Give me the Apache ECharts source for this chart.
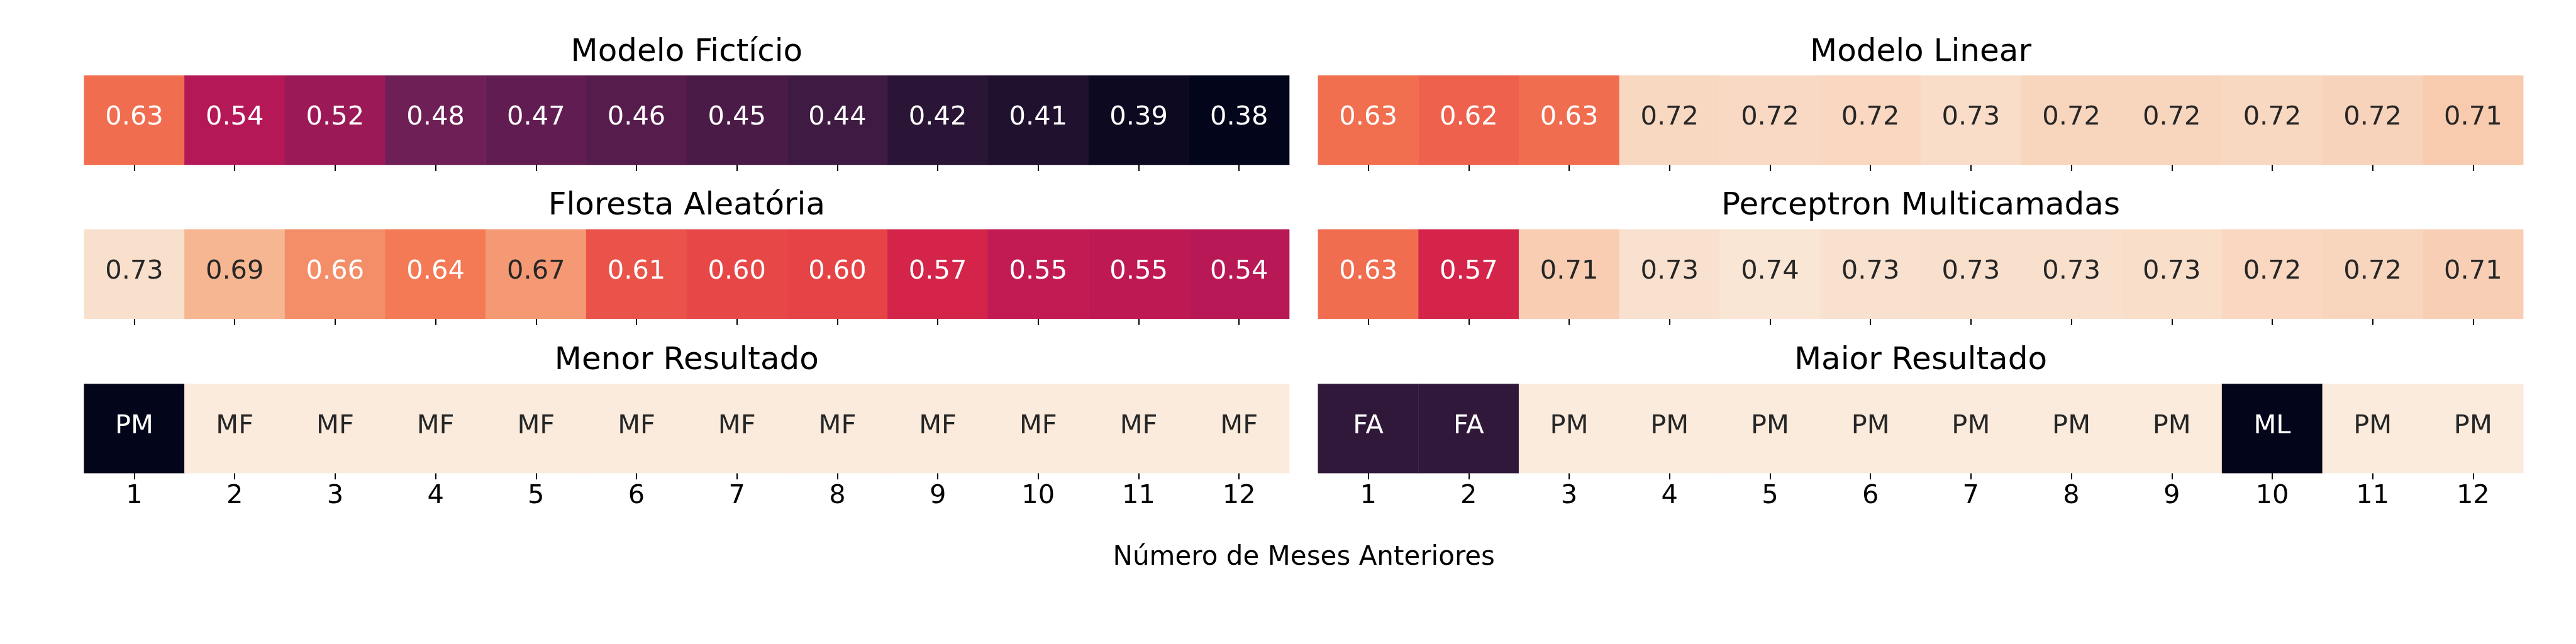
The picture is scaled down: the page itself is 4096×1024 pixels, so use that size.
<!DOCTYPE html>
<html>
<head>
<meta charset="utf-8">
<script src="https://cdn.jsdelivr.net/npm/echarts@6/dist/echarts.min.js"></script>
<style>
html,body{margin:0;padding:0;background:#ffffff;}
#chart{width:4096px;height:1024px;}
</style>
</head>
<body>
<div id="chart"></div>
<script>
// ---------------- DATA ----------------
const months = ['1','2','3','4','5','6','7','8','9','10','11','12'];
const modeloFicticio = [0.630, 0.540, 0.520, 0.480, 0.470, 0.460, 0.450, 0.440, 0.420, 0.410, 0.390, 0.380];
const modeloLinear = [0.631, 0.622, 0.630, 0.722, 0.723, 0.721, 0.727, 0.719, 0.719, 0.722, 0.718, 0.709];
const florestaAleatoria = [0.730, 0.690, 0.657, 0.640, 0.666, 0.610, 0.602, 0.598, 0.570, 0.552, 0.550, 0.544];
const perceptronMulticamadas = [0.630, 0.570, 0.712, 0.731, 0.7351, 0.731, 0.730, 0.730, 0.728, 0.721, 0.720, 0.714];
const menorResultado = ['PM','MF','MF','MF','MF','MF','MF','MF','MF','MF','MF','MF'];
const maiorResultado = ['FA','FA','PM','PM','PM','PM','PM','PM','PM','ML','PM','PM'];
const panelTitles = ['Modelo Fictício','Modelo Linear','Floresta Aleatória','Perceptron Multicamadas','Menor Resultado','Maior Resultado'];
const xAxisTitle = 'Número de Meses Anteriores';
const colorMin = 0.38, colorMax = 0.74;

// ---------------- STYLE ----------------
const S = 0.682;
const FONT = '"DejaVu Sans", "Liberation Sans", sans-serif';
// rocket colormap stops
const rocketStops = [
  [0.000, [3, 5, 26]],
  [0.143, [53, 25, 62]],
  [0.286, [112, 31, 87]],
  [0.429, [173, 23, 89]],
  [0.500, [203, 27, 79]],
  [0.571, [225, 51, 66]],
  [0.714, [243, 118, 81]],
  [0.857, [246, 180, 143]],
  [1.000, [250, 235, 220]]
];
function rocket(t) {
  t = Math.max(0, Math.min(1, t));
  for (let i = 1; i < rocketStops.length; i++) {
    const [t1, c1] = rocketStops[i];
    const [t0, c0] = rocketStops[i - 1];
    if (t <= t1) {
      const f = (t - t0) / (t1 - t0);
      return c0.map((v, k) => Math.round(v + (c1[k] - v) * f));
    }
  }
  return rocketStops[rocketStops.length - 1][1];
}
function toHex(c) { return '#' + c.map(v => v.toString(16).padStart(2, '0')).join(''); }
function hexToRgb(h) { return [1, 3, 5].map(i => parseInt(h.substr(i, 2), 16)); }
function luminance(c) {
  const lin = c.map(v => { v = v / 255; return v <= 0.03928 ? v / 12.92 : Math.pow((v + 0.055) / 1.055, 2.4); });
  return 0.2126 * lin[0] + 0.7152 * lin[1] + 0.0722 * lin[2];
}
function textColorFor(c) { return luminance(c) > 0.408 ? '#262626' : '#ffffff'; }

const catColorsMenor = { PM: '#03051A', MF: '#FAEBDD' };
const catColorsMaior = { ML: '#03051A', FA: '#30183A', PM: '#FAEBDD' };

// layout (pixels in the 4096x1024 window)
const colLeft = [196 * S, 3073 * S];
const panelW = 2810 * S;
const rowTop = [176 * S, 535 * S, 895 * S];
const panelH = 208 * S;
const titleMidY = [123.5 * S, 481.5 * S, 841 * S];

const panels = [
  { kind: 'num', values: modeloFicticio },
  { kind: 'num', values: modeloLinear },
  { kind: 'num', values: florestaAleatoria },
  { kind: 'num', values: perceptronMulticamadas },
  { kind: 'cat', values: menorResultado, colors: catColorsMenor },
  { kind: 'cat', values: maiorResultado, colors: catColorsMaior }
];

const grids = [], xAxes = [], yAxes = [], series = [], graphics = [];
panels.forEach((p, i) => {
  const row = Math.floor(i / 2), col = i % 2;
  grids.push({ left: colLeft[col], top: rowTop[row], width: panelW, height: panelH, containLabel: false });
  xAxes.push({
    type: 'category', gridIndex: i, data: months, position: 'bottom',
    axisLine: { show: false },
    axisTick: { show: true, alignWithLabel: true, interval: 0, length: 10, lineStyle: { color: '#000', width: 2 } },
    axisLabel: { show: row === 2, interval: 0, margin: 16, color: '#000', fontFamily: FONT, fontSize: 41.6, lineHeight: 42 },
    splitLine: { show: false }
  });
  yAxes.push({ type: 'category', gridIndex: i, data: [''], show: false });
  const data = p.values.map((v, j) => {
    let rgb, name;
    if (p.kind === 'num') {
      rgb = rocket((v - colorMin) / (colorMax - colorMin));
      name = v.toFixed(2);
    } else {
      rgb = hexToRgb(p.colors[v]);
      name = v;
    }
    return {
      name: name,
      value: [j, 0, p.kind === 'num' ? v : j],
      itemStyle: { color: toHex(rgb) },
      label: { color: textColorFor(rgb) }
    };
  });
  series.push({
    type: 'heatmap', xAxisIndex: i, yAxisIndex: i, data: data,
    label: {
      show: true, fontFamily: FONT, fontSize: 41.6, offset: [0, -3.5],
      formatter: (prm) => prm.data.name
    },
    itemStyle: { borderWidth: 0 },
    emphasis: { disabled: true }
  });
  graphics.push({
    type: 'text',
    x: colLeft[col] + panelW / 2, y: titleMidY[row],
    style: {
      text: panelTitles[i], fill: '#000', font: '50px ' + FONT,
      align: 'center', verticalAlign: 'middle', textAlign: 'center', textVerticalAlign: 'middle'
    }
  });
});
graphics.push({
  type: 'text',
  x: 3040 * S, y: 1300 * S,
  style: {
    text: xAxisTitle, fill: '#000', font: '42px ' + FONT,
    align: 'center', verticalAlign: 'middle', textAlign: 'center', textVerticalAlign: 'middle'
  }
});

const chart = echarts.init(document.getElementById('chart'), null, { renderer: 'canvas' });
chart.setOption({
  animation: false,
  backgroundColor: '#ffffff',
  grid: grids,
  xAxis: xAxes,
  yAxis: yAxes,
  series: series,
  graphic: graphics
});
</script>
</body>
</html>
